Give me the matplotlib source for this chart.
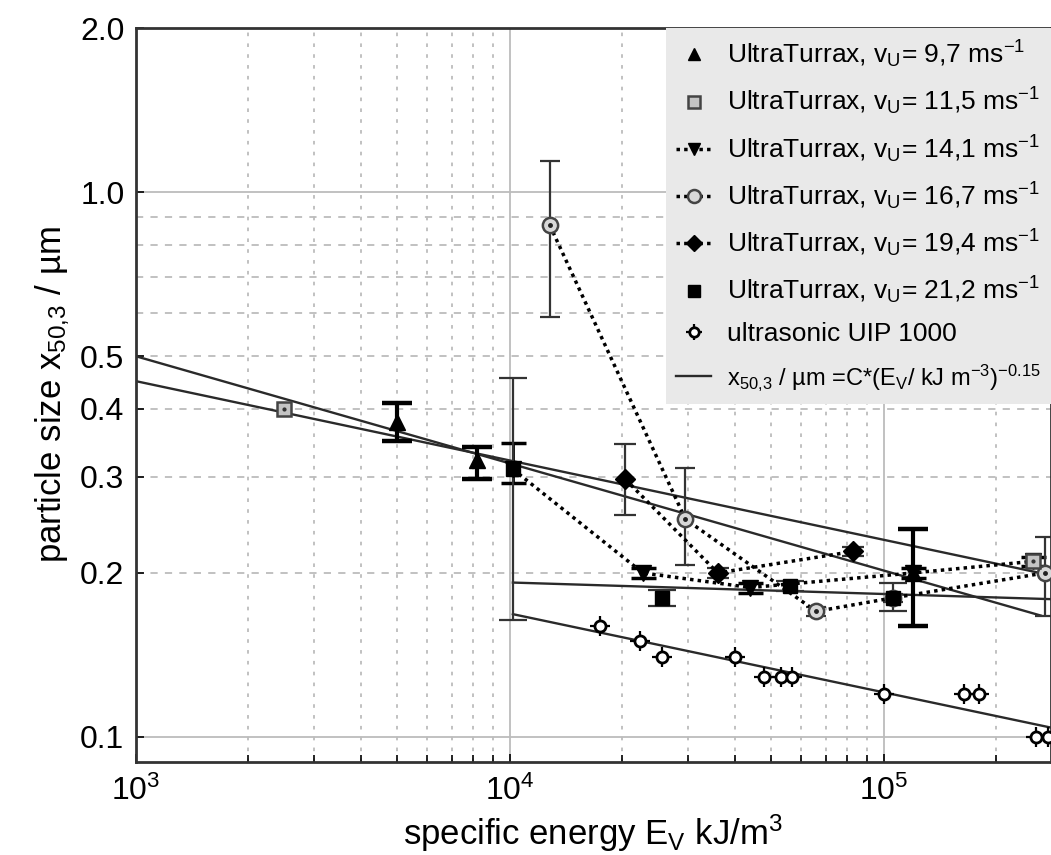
import numpy as np
import matplotlib
matplotlib.use("Agg")
import matplotlib.pyplot as plt

plt.rcParams["font.family"] = ["Liberation Sans", "DejaVu Sans"]
plt.rcParams["mathtext.default"] = "regular"

# --- data ---------------------------------------------------------------
ut97_x = [5.0e3, 8.2e3, 1.2e5]
ut97_y = [0.379, 0.323, 0.200]
ut97_lo = [0.349, 0.298, 0.160]
ut97_hi = [0.410, 0.341, 0.241]

ut115_x = [2.5e3, 2.5e5]
ut115_y = [0.40, 0.21]

ut141_x = [1.02e4, 2.27e4, 4.4e4, 1.2e5, 2.5e5]
ut141_y = [0.31, 0.200, 0.188, 0.200, 0.210]
ut141_lo = [0.293, 0.196, 0.184, 0.196, 0.206]
ut141_hi = [0.347, 0.204, 0.192, 0.204, 0.214]

ut167_x = [1.28e4, 2.95e4, 6.6e4, 1.06e5, 2.7e5]
ut167_y = [0.87, 0.251, 0.170, 0.180, 0.200]
ut167_lo = [0.59, 0.207, 0.167, 0.177, 0.167]
ut167_hi = [1.14, 0.312, 0.173, 0.183, 0.233]

ut194_x = [2.04e4, 3.6e4, 8.3e4]
ut194_y = [0.297, 0.200, 0.219]
ut194_lo = [0.255, 0.196, 0.215]
ut194_hi = [0.345, 0.204, 0.223]

ut212_x = [1.02e4, 2.56e4, 5.6e4, 1.06e5]
ut212_y = [0.310, 0.180, 0.189, 0.180]
ut212_lo = [0.164, 0.174, 0.185, 0.170]
ut212_hi = [0.456, 0.186, 0.193, 0.192]

us_x = [1.74e4, 2.23e4, 2.56e4, 4.0e4, 4.8e4, 5.3e4, 5.7e4, 1.0e5, 1.64e5, 1.8e5, 2.55e5, 2.75e5]
us_y = [0.160, 0.150, 0.140, 0.140, 0.129, 0.129, 0.129, 0.120, 0.120, 0.120, 0.100, 0.100]

# power-law fits, given by their end points
fit_x0 = [1.0e3, 1.0e3, 1.02e4, 1.02e4]
fit_x1 = [2.63e5, 2.8e5, 2.8e5, 2.8e5]
fit_y0 = [0.50, 0.45, 0.192, 0.168]
fit_y1 = [0.167, 0.198, 0.179, 0.104]

fig = plt.figure(figsize=(10.51, 8.55), dpi=100)
ax = fig.add_axes([0.129, 0.109, 0.871, 0.858])
ax.set_xscale("log")
ax.set_yscale("log")
ax.set_xlim(1e3, 2.8e5)
ax.set_ylim(0.09, 2.0)

# grid
gcol = "#bcbcbc"
for v in [1e4, 1e5]:
    ax.axvline(v, color=gcol, lw=1.3, zorder=0)
for v in [0.1, 1.0]:
    ax.axhline(v, color=gcol, lw=1.3, zorder=0)
for dec in [1e3, 1e4, 1e5]:
    for m in range(2, 10):
        if dec * m < 2.8e5:
            ax.axvline(dec * m, color=gcol, lw=1.3, ls=(0, (2, 4)), zorder=0)
for v in [0.2, 0.3, 0.4, 0.5, 0.6, 0.7, 0.8, 0.9]:
    ax.axhline(v, color=gcol, lw=1.3, ls=(0, (4, 4)), zorder=0)

# fit lines
for x0, x1, y0, y1 in zip(fit_x0, fit_x1, fit_y0, fit_y1):
    ax.plot([x0, x1], [y0, y1], color="#2a2a2a", lw=1.7, zorder=2)


def yerr(y, lo, hi):
    return [np.array(y) - np.array(lo), np.array(hi) - np.array(y)]


ax.errorbar(ut97_x, ut97_y, yerr=yerr(ut97_y, ut97_lo, ut97_hi), fmt="none",
            ecolor="black", elinewidth=3, capsize=11, capthick=3.2, zorder=3)
ax.errorbar(ut141_x, ut141_y, yerr=yerr(ut141_y, ut141_lo, ut141_hi), fmt="none",
            ecolor="black", elinewidth=2, capsize=9, capthick=2.5, zorder=3)
ax.errorbar(ut167_x, ut167_y, yerr=yerr(ut167_y, ut167_lo, ut167_hi), fmt="none",
            ecolor="#333333", elinewidth=1.6, capsize=7, capthick=1.6, zorder=3)
ax.errorbar(ut194_x, ut194_y, yerr=yerr(ut194_y, ut194_lo, ut194_hi), fmt="none",
            ecolor="#333333", elinewidth=1.6, capsize=8, capthick=1.6, zorder=3)
ax.errorbar(ut212_x, ut212_y, yerr=yerr(ut212_y, ut212_lo, ut212_hi), fmt="none",
            ecolor="#333333", elinewidth=1.6, capsize=10, capthick=1.6, zorder=3)

dots = (0, (1, 1.2))
h1, = ax.plot(ut97_x, ut97_y, ls="none", marker="^", ms=11, color="black", zorder=4)
h3, = ax.plot(ut141_x, ut141_y, ls=dots, lw=2.5, marker="v", ms=11, color="black", zorder=4)
h4, = ax.plot(ut167_x, ut167_y, ls=dots, lw=2.5, marker="o", ms=11, color="black",
              mfc="#d8d8d8", mec="#444444", mew=1.8, zorder=4)
ax.plot(ut167_x, ut167_y, ls="none", marker=".", ms=5, color="#222222", zorder=5)
h5, = ax.plot(ut194_x, ut194_y, ls=dots, lw=2.5, marker="D", ms=10, color="black", zorder=4)
h6, = ax.plot(ut212_x, ut212_y, ls="none", marker="s", ms=10, color="black", zorder=5)
h2, = ax.plot(ut115_x, ut115_y, ls="none", marker="s", ms=10, mfc="#c4c4c4",
              mec="#444444", mew=1.8, zorder=6)
ax.plot(ut115_x, ut115_y, ls="none", marker=".", ms=4, color="#333333", zorder=7)
h7a, = ax.plot(us_x, us_y, ls="none", marker="+", ms=14, mew=1.6, color="black", zorder=4)
h7b, = ax.plot(us_x, us_y, ls="none", marker="o", ms=8, mfc="white", mec="black",
               mew=2.0, zorder=5)
h8, = ax.plot([], [], color="#2a2a2a", lw=1.7)

labels = [
    "UltraTurrax, v$_U$= 9,7 ms$^{-1}$",
    "UltraTurrax, v$_U$= 11,5 ms$^{-1}$",
    "UltraTurrax, v$_U$= 14,1 ms$^{-1}$",
    "UltraTurrax, v$_U$= 16,7 ms$^{-1}$",
    "UltraTurrax, v$_U$= 19,4 ms$^{-1}$",
    "UltraTurrax, v$_U$= 21,2 ms$^{-1}$",
    "ultrasonic UIP 1000",
    "x$_{50{,}3}$ / µm =C*(E$_V$/ kJ m$^{-3}$)$^{-0.15}$",
]
leg = ax.legend([h1, h2, h3, h4, h5, h6, (h7a, h7b), h8], labels, loc="upper right",
                fontsize=19, frameon=True, facecolor="#e9e9e9", edgecolor="none",
                framealpha=1, fancybox=False, borderaxespad=0, handlelength=1.3,
                labelspacing=0.6, handletextpad=0.6, markerscale=0.85,
                borderpad=0.4)
leg.get_texts()[-1].set_fontsize(17)
leg.set_zorder(8)

ax.set_xticks([1e3, 1e4, 1e5])
ax.set_xticklabels(["$10^3$", "$10^4$", "$10^5$"])
ax.set_yticks([0.1, 0.2, 0.3, 0.4, 0.5, 1.0, 2.0])
ax.set_yticklabels(["0.1", "0.2", "0.3", "0.4", "0.5", "1.0", "2.0"])
ax.yaxis.set_minor_locator(matplotlib.ticker.NullLocator())
ax.tick_params(axis="both", which="major", labelsize=23, direction="in", length=6, width=1.2)
ax.tick_params(axis="x", which="minor", direction="in", length=5, width=1.2)
ax.tick_params(axis="x", pad=10)
ax.tick_params(axis="y", pad=8)
for s in ax.spines.values():
    s.set_linewidth(2)
    s.set_color("#333333")

ax.set_xlabel("specific energy E$_V$ kJ/m$^3$", fontsize=25, labelpad=4)
ax.set_ylabel("particle size x$_{50{,}3}$ / µm", fontsize=25, labelpad=6)

fig.savefig("out.png", dpi=100)
